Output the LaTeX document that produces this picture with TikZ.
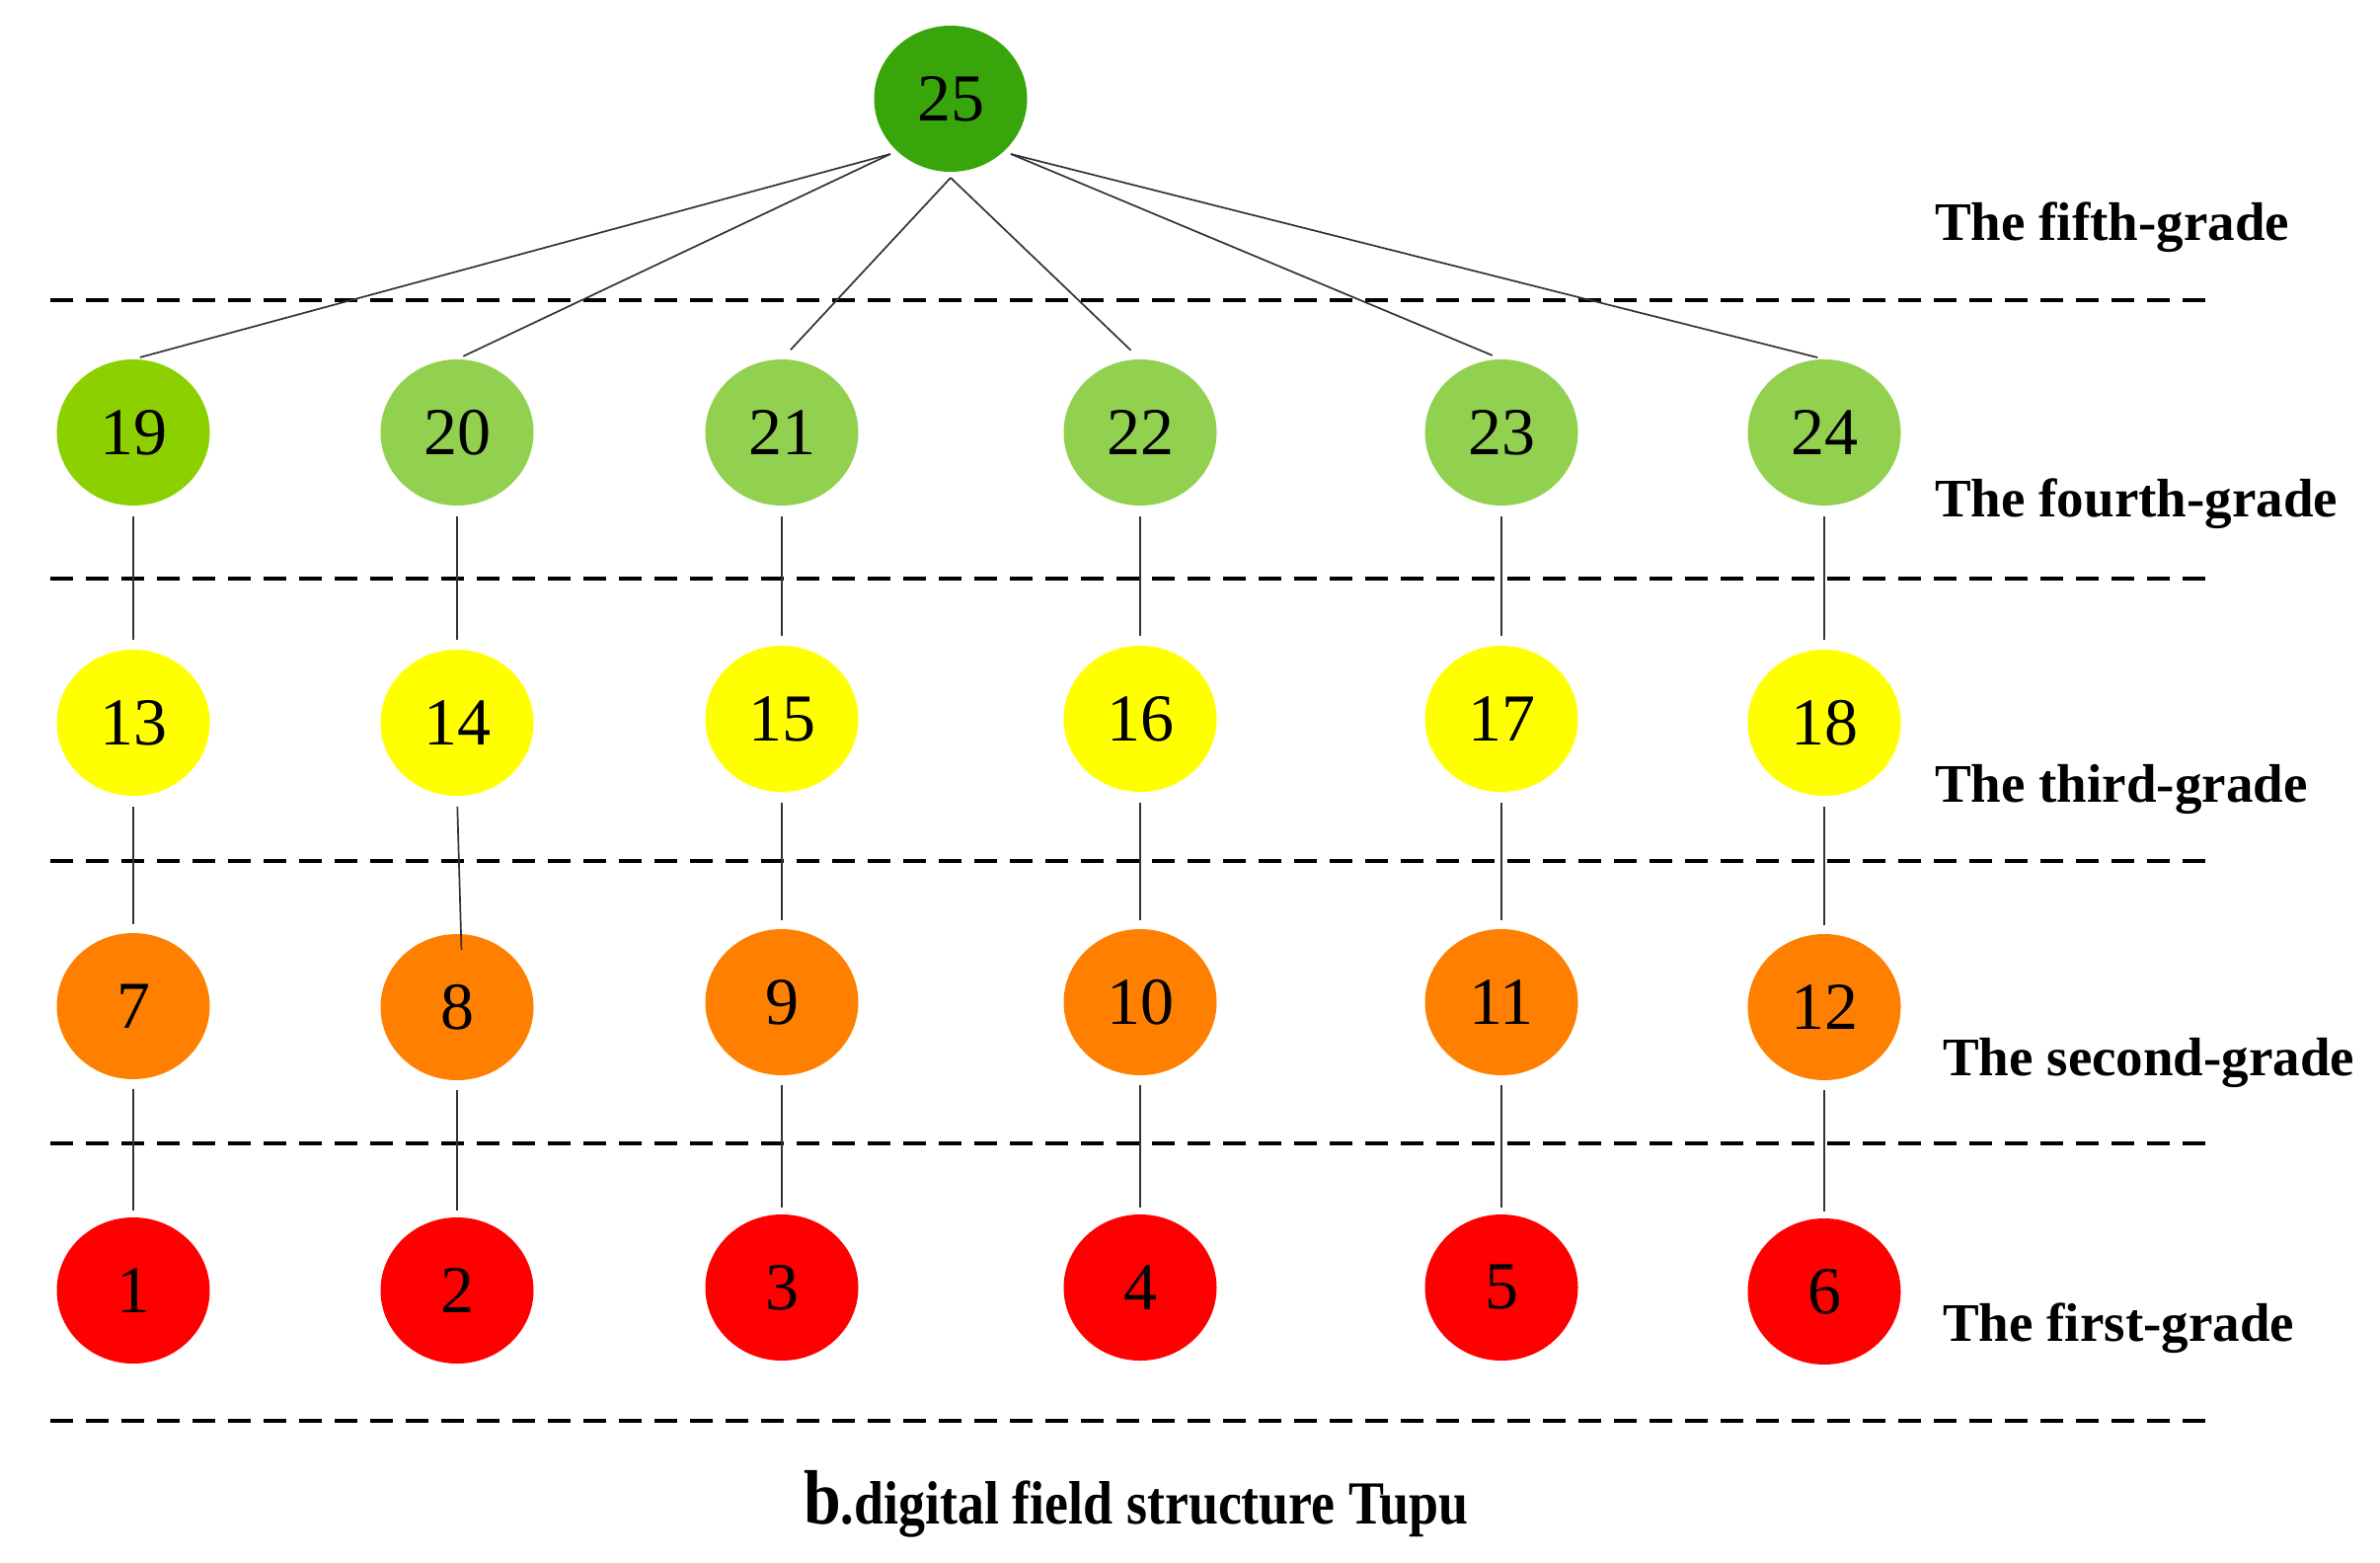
\documentclass[tikz,border=0pt]{standalone}
\usepackage{fontspec}
\usepackage{graphicx}
\setmainfont{Liberation Serif}
\usetikzlibrary{shapes.geometric,calc}
\definecolor{gdark}{RGB}{56,166,10}
\definecolor{glime}{RGB}{140,208,0}
\definecolor{glight}{RGB}{146,208,80}
\definecolor{yel}{RGB}{255,255,0}
\definecolor{orn}{RGB}{255,128,0}
\definecolor{rd}{RGB}{255,0,0}
\begin{document}
\begin{tikzpicture}[x=1pt,y=-1pt,
  nd/.style={ellipse, minimum width=155pt, minimum height=148pt, inner sep=0pt,
    font=\fontsize{68}{68}\selectfont},
  conn/.style={line width=1.7pt, draw=black!80},
  sep/.style={line width=4.5pt, dash pattern=on 23pt off 13pt},
  lab/.style={font=\fontsize{55}{55}\selectfont\bfseries, anchor=base west, inner sep=0pt}]
\useasboundingbox (0,0) rectangle (2411,1582);

% separators
\foreach \yy/\nm in {304/s1,586/s2,872/s3,1158/s4,1439/s5}{
  \coordinate (\nm a) at (51,\yy);
  \coordinate (\nm b) at (2237,\yy);
  \draw[sep] (\nm a) -- (\nm b);
}

% nodes
\node[nd, fill=gdark] (n25) at (963,100) {25};

\node[nd, fill=glime]  (n19) at (135,438) {19};
\node[nd, fill=glight] (n20) at (463,438) {20};
\node[nd, fill=glight] (n21) at (792,438) {21};
\node[nd, fill=glight] (n22) at (1155,438) {22};
\node[nd, fill=glight] (n23) at (1521,438) {23};
\node[nd, fill=glight] (n24) at (1848,438) {24};

\node[nd, fill=yel] (n13) at (135,732) {13};
\node[nd, fill=yel] (n14) at (463,732) {14};
\node[nd, fill=yel] (n15) at (792,728) {15};
\node[nd, fill=yel] (n16) at (1155,728) {16};
\node[nd, fill=yel] (n17) at (1521,728) {17};
\node[nd, fill=yel] (n18) at (1848,732) {18};

\node[nd, fill=orn] (n7)  at (135,1019) {7};
\node[nd, fill=orn] (n8)  at (463,1020) {8};
\node[nd, fill=orn] (n9)  at (792,1015) {9};
\node[nd, fill=orn] (n10) at (1155,1015) {10};
\node[nd, fill=orn] (n11) at (1521,1015) {11};
\node[nd, fill=orn] (n12) at (1848,1020) {12};

\node[nd, fill=rd] (n1) at (135,1307) {1};
\node[nd, fill=rd] (n2) at (463,1307) {2};
\node[nd, fill=rd] (n3) at (792,1304) {3};
\node[nd, fill=rd] (n4) at (1155,1304) {4};
\node[nd, fill=rd] (n5) at (1521,1304) {5};
\node[nd, fill=rd] (n6) at (1848,1308) {6};

% connectors from 25
\coordinate (p25l) at ($(n25.center)+(-61,56)$);
\coordinate (p25m) at ($(n25.center)+(0,80)$);
\coordinate (p25r) at ($(n25.center)+(61,56)$);
\draw[conn, shorten >=7pt]  (p25l) -- (n19.north);
\draw[conn, shorten >=7pt]  (p25l) -- (n20.north);
\draw[conn, shorten >=13pt] (p25m) -- (n21.north);
\draw[conn, shorten >=13pt] (p25m) -- (n22.north);
\draw[conn, shorten >=10pt] (p25r) -- (n23.north);
\draw[conn, shorten >=7pt]  (p25r) -- (n24.north);

% vertical connectors
\foreach \a/\b in {n19/n13,n20/n14,n21/n15,n22/n16,n23/n17,n24/n18}{
  \draw[conn, shorten <=11pt, shorten >=10pt] (\a.south) -- (\b.north);
}
\foreach \a/\b in {n13/n7,n15/n9,n16/n10,n17/n11,n18/n12}{
  \draw[conn, shorten <=11pt, shorten >=9pt] (\a.south) -- (\b.north);
}
\draw[conn, shorten <=11pt, shorten >=-16pt] (n14.south) -- ($(n8.north)+(4,0)$);
\foreach \a/\b in {n7/n1,n8/n2,n9/n3,n10/n4,n11/n5,n12/n6}{
  \draw[conn, shorten <=10pt, shorten >=7pt] (\a.south) -- (\b.north);
}

% grade labels
\node[lab] (g5) at (1960,243) {The fifth-grade};
\node[lab] (g4) at (1960,523) {The fourth-grade};
\node[lab] (g3) at (1960,812) {The third-grade};
\node[lab] (g2) at (1968,1089) {The second-grade};
\node[lab] (g1) at (1968,1358) {The first-grade};

% caption
\node[anchor=base west, inner sep=0pt, font=\fontsize{62}{62}\selectfont\bfseries] (cap) at (814,1543)
  {\scalebox{0.87}[1]{{\fontsize{78}{78}\selectfont b}.digital field structure Tupu}};
\end{tikzpicture}
\end{document}
